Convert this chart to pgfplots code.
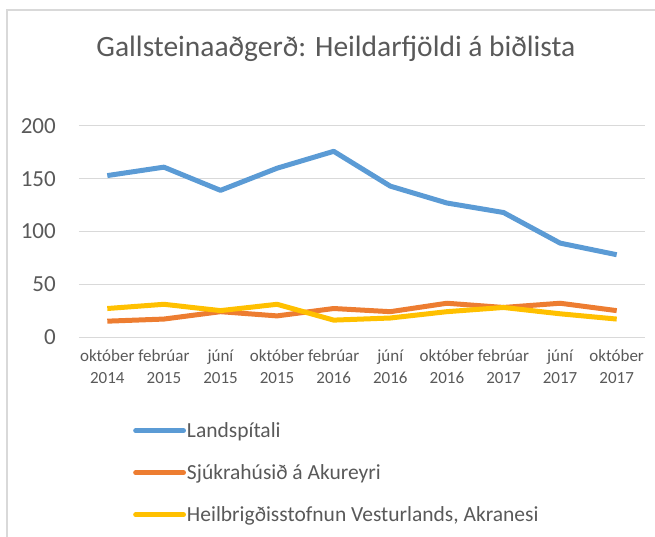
\documentclass[border=0pt]{standalone}
\usepackage{fontspec}
\setmainfont{Carlito}
\usepackage{pgfplots}
\pgfplotsset{compat=1.18}
\definecolor{cblue}{HTML}{5B9BD5}
\definecolor{corange}{HTML}{ED7D31}
\definecolor{cyellow}{HTML}{FFC000}
\definecolor{gridc}{HTML}{D9D9D9}
\definecolor{textc}{HTML}{595959}
\begin{document}
\begin{tikzpicture}[x=1pt,y=1pt]
\useasboundingbox (-79,-200) rectangle (576,337);
\draw[color=gridc, line width=1.5pt] (-72,-200) -- (-72,327) -- (576,327);
\node[text=textc, font=\fontsize{29.5}{33}\selectfont] at (257,288) {Gallsteinaaðgerð: Heildarfjöldi á biðlista};
\begin{axis}[
  at={(0pt,0pt)}, anchor=south west,
  scale only axis, width=566pt, height=211pt,
  xmin=-0.5, xmax=9.5, ymin=0, ymax=200,
  ytick={0,50,100,150,200},
  ymajorgrids, major grid style={color=gridc, line width=1pt},
  axis line style={draw=none}, tick style={draw=none},
  xtick={0,...,9},
  xticklabels={\strut október\\2014, \strut febrúar\\2015, \strut júní\\2015, \strut október\\2015, \strut febrúar\\2016, \strut júní\\2016, \strut október\\2016, \strut febrúar\\2017, \strut júní\\2017, \strut október\\2017},
  xticklabel style={align=center, inner sep=0pt, yshift=-9pt, text=textc, font=\fontsize{17}{22}\selectfont},
  yticklabel style={inner sep=0pt, xshift=-23pt, text=textc, font=\fontsize{23}{26}\selectfont},
  /pgf/number format/assume math mode=true,
  legend style={at={(rel axis cs:0.0954,-0.40)}, anchor=north west, draw=none, fill=none,
    font=\fontsize{21.5}{24}\selectfont, text=textc, row sep=23.5pt, inner sep=0pt,
    nodes={inner sep=1pt}},
  legend cell align=left,
  legend image code/.code={\draw[#1, line width=4.8pt, line cap=round] (0pt,0pt) -- (48pt,0pt);},
]
\addplot[cblue, line width=5pt, line join=round] coordinates {(0,153) (1,161) (2,139) (3,160) (4,176) (5,143) (6,127) (7,118) (8,89) (9,78)};
\addlegendentry{Landspítali}
\addplot[corange, line width=5pt, line join=round] coordinates {(0,15) (1,17) (2,24) (3,20) (4,27) (5,24) (6,32) (7,28) (8,32) (9,25)};
\addlegendentry{Sjúkrahúsið á Akureyri}
\addplot[cyellow, line width=5pt, line join=round] coordinates {(0,27) (1,31) (2,25) (3,31) (4,16) (5,18) (6,24) (7,28) (8,22) (9,17)};
\addlegendentry{Heilbrigðisstofnun Vesturlands, Akranesi}
\end{axis}
\end{tikzpicture}
\end{document}
